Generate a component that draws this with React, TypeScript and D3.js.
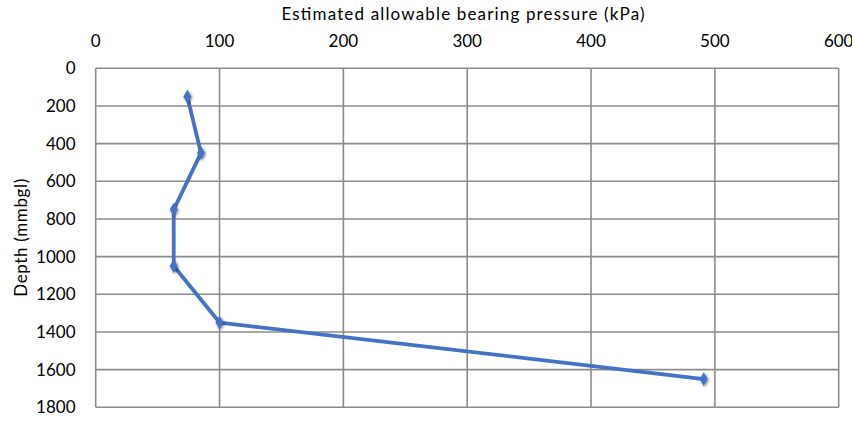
import React from "react";
import * as d3 from "d3";

// Bearing pressure (kPa) against depth (mm below ground level)
const pressures = [74, 85, 63, 63, 100, 491];
const depths = [150, 450, 750, 1050, 1350, 1650];
const xTicks = [0, 100, 200, 300, 400, 500, 600];
const yTicks = [0, 200, 400, 600, 800, 1000, 1200, 1400, 1600, 1800];

const W = 852;
const H = 423;
const left = 95.7;
const right = 838.7;
const top = 68.3;
const bottom = 407.3;
const font = "Lato, 'Open Sans', sans-serif";

export default function App() {
  const x = d3.scaleLinear().domain([0, 600]).range([left, right]);
  const y = d3.scaleLinear().domain([0, 1800]).range([top, bottom]);
  const pts = pressures.map((p, i) => [x(p), y(depths[i])] as [number, number]);
  const line = d3.line()(pts) ?? "";
  const diamond = d3.symbol(d3.symbolDiamond, 55)() ?? "";

  return (
    <svg width={W} height={H} style={{ position: "absolute", left: 0, top: 0 }}>
      <defs>
        <filter id="soft" x="-100%" y="-100%" width="300%" height="300%">
          <feGaussianBlur in="SourceAlpha" stdDeviation="1.8" />
          <feOffset dx="0.6" dy="0.6" result="b" />
          <feComponentTransfer>
            <feFuncA type="linear" slope="0.55" />
          </feComponentTransfer>
          <feMerge>
            <feMergeNode />
            <feMergeNode in="SourceGraphic" />
          </feMerge>
        </filter>
      </defs>
      <rect width={W} height={H} fill="#fff" />
      {/* grid */}
      {xTicks.map((t) => (
        <line key={"gx" + t} x1={x(t)} x2={x(t)} y1={top} y2={bottom} stroke="#8c8c8c" strokeWidth={1.6} />
      ))}
      {yTicks.map((t) => (
        <line key={"gy" + t} x1={left} x2={right} y1={y(t)} y2={y(t)} stroke="#8c8c8c" strokeWidth={1.6} />
      ))}
      {/* tick labels */}
      {xTicks.map((t) => (
        <text key={"tx" + t} x={x(t)} y={47} textAnchor="middle" fontFamily={font} fontSize={17} fill="#000">
          {t}
        </text>
      ))}
      {yTicks.map((t) => (
        <text key={"ty" + t} x={75.5} y={y(t) + 6} textAnchor="end" fontFamily={font} fontSize={17} fill="#000">
          {t}
        </text>
      ))}
      <text
        x={463}
        y={20}
        textAnchor="middle"
        fontFamily={font}
        fontSize={17}
        fill="#000"
        textLength={363}
        lengthAdjust="spacing"
      >
        Estimated allowable bearing pressure (kPa)
      </text>
      <text
        transform={`translate(27, ${(top + bottom) / 2}) rotate(-90)`}
        textAnchor="middle"
        fontFamily={font}
        fontSize={17}
        fill="#000"
        textLength={118}
        lengthAdjust="spacing"
      >
        Depth (mmbgl)
      </text>
      {/* series */}
      <path d={line} fill="none" stroke="#4472c4" strokeWidth={3.8} strokeLinejoin="round" />
      {pts.map(([px, py], i) => (
        <path key={"m" + i} d={diamond} transform={`translate(${px},${py})`} fill="#4472c4" filter="url(#soft)" />
      ))}
    </svg>
  );
}
